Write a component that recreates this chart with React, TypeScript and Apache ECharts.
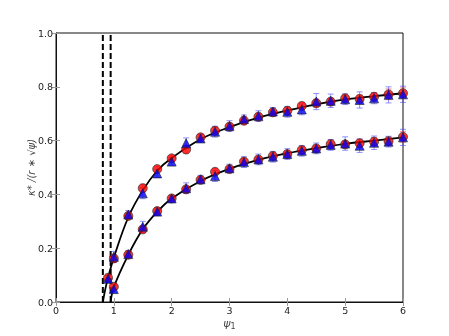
import React, { useEffect, useRef } from "react";
import * as echarts from "echarts";

const xTicks = [0, 1, 2, 3, 4, 5, 6];
const yTicks = [0, 0.2, 0.4, 0.6, 0.8, 1.0];

const xsUpper = [0.9, 1.0, 1.25, 1.5, 1.75, 2.0, 2.25, 2.5, 2.75, 3.0, 3.25, 3.5, 3.75, 4.0, 4.25, 4.5, 4.75, 5.0, 5.25, 5.5, 5.75, 6.0];
const upperCircle = [0.09, 0.162, 0.32, 0.423, 0.494, 0.534, 0.567, 0.612, 0.637, 0.652, 0.674, 0.689, 0.705, 0.711, 0.729, 0.739, 0.745, 0.757, 0.755, 0.763, 0.772, 0.776];
const upperCircleErr = [0.01, 0.015, 0.01, 0.015, 0.01, 0.01, 0.015, 0.012, 0.012, 0.012, 0.015, 0.012, 0.015, 0.012, 0.012, 0.015, 0.012, 0.012, 0.015, 0.015, 0.02, 0.02];
const upperTriangle = [0.086, 0.168, 0.325, 0.404, 0.478, 0.522, 0.59, 0.608, 0.633, 0.654, 0.68, 0.691, 0.708, 0.707, 0.716, 0.745, 0.748, 0.754, 0.751, 0.757, 0.77, 0.772];
const upperTriangleErr = [0.012, 0.02, 0.015, 0.02, 0.015, 0.015, 0.02, 0.015, 0.02, 0.02, 0.015, 0.02, 0.015, 0.02, 0.02, 0.03, 0.025, 0.02, 0.03, 0.02, 0.03, 0.03];

const xsLower = [1.0, 1.25, 1.5, 1.75, 2.0, 2.25, 2.5, 2.75, 3.0, 3.25, 3.5, 3.75, 4.0, 4.25, 4.5, 4.75, 5.0, 5.25, 5.5, 5.75, 6.0];
const lowerCircle = [0.057, 0.176, 0.27, 0.338, 0.385, 0.419, 0.454, 0.484, 0.494, 0.522, 0.53, 0.543, 0.55, 0.565, 0.571, 0.587, 0.586, 0.59, 0.596, 0.598, 0.614];
const lowerCircleErr = [0.01, 0.01, 0.012, 0.01, 0.01, 0.01, 0.012, 0.012, 0.012, 0.012, 0.01, 0.012, 0.012, 0.012, 0.012, 0.015, 0.012, 0.015, 0.015, 0.015, 0.02];
const lowerTriangle = [0.048, 0.178, 0.28, 0.336, 0.385, 0.423, 0.456, 0.468, 0.497, 0.52, 0.53, 0.54, 0.55, 0.562, 0.571, 0.584, 0.589, 0.581, 0.592, 0.596, 0.612];
const lowerTriangleErr = [0.015, 0.012, 0.02, 0.015, 0.012, 0.02, 0.015, 0.02, 0.015, 0.02, 0.02, 0.02, 0.02, 0.02, 0.02, 0.02, 0.025, 0.025, 0.025, 0.02, 0.03];

// Fitted curves
const upperCurveX = [0.81, 0.85, 0.9, 1.0, 1.25, 1.5, 1.75, 2.0, 2.5, 3.0, 3.5, 4.0, 4.5, 5.0, 5.5, 6.0];
const upperCurveY = [0.0, 0.045, 0.09, 0.165, 0.315, 0.415, 0.488, 0.535, 0.605, 0.65, 0.685, 0.712, 0.735, 0.753, 0.765, 0.776];
const lowerCurveX = [0.945, 1.0, 1.25, 1.5, 1.75, 2.0, 2.5, 3.0, 3.5, 4.0, 4.5, 5.0, 5.5, 6.0];
const lowerCurveY = [0.0, 0.055, 0.175, 0.27, 0.335, 0.385, 0.45, 0.495, 0.528, 0.553, 0.572, 0.588, 0.6, 0.612];

const dashX = [0.81, 0.945];

const zip = (xs: number[], ys: number[]) => xs.map((x, i) => [x, ys[i]]);
const errData = (xs: number[], ys: number[], es: number[]) => xs.map((x, i) => [x, ys[i] - es[i], ys[i] + es[i]]);

const errSeries = (data: number[][], color: string) => ({
  type: "custom",
  data,
  encode: { x: 0, y: [1, 2] },
  z: 2,
  renderItem: (params: any, api: any) => {
    const x = api.value(0);
    const p1 = api.coord([x, api.value(1)]);
    const p2 = api.coord([x, api.value(2)]);
    const cw = 3;
    const st = { stroke: color, lineWidth: 1 };
    return {
      type: "group",
      children: [
        { type: "line", shape: { x1: p1[0], y1: p1[1], x2: p2[0], y2: p2[1] }, style: st },
        { type: "line", shape: { x1: p1[0] - cw, y1: p1[1], x2: p1[0] + cw, y2: p1[1] }, style: st },
        { type: "line", shape: { x1: p2[0] - cw, y1: p2[1], x2: p2[0] + cw, y2: p2[1] }, style: st },
      ],
    };
  },
});

const markerSeries = (data: number[][], symbol: string, color: string, size: number) => ({
  type: "scatter",
  data,
  symbol,
  symbolSize: size,
  z: 4,
  itemStyle: { color, borderColor: "#222", borderWidth: 0.8 },
});

export default function App() {
  const ref = useRef<HTMLDivElement>(null);
  useEffect(() => {
    const chart = echarts.init(ref.current!, null, { renderer: "svg" });
    const font = "DejaVu Sans";
    chart.setOption({
      animation: false,
      grid: { left: 56, right: 46, top: 33, bottom: 34, show: true, borderColor: "#111", borderWidth: 1 },
      xAxis: [
        {
          type: "value",
          min: 0,
          max: 6,
          interval: 1,
          name: "{i|ψ}{s|1}",
          nameLocation: "middle",
          nameGap: 14,
          nameMoveOverlap: false,
          nameTextStyle: {
            rich: {
              i: { fontFamily: font, fontSize: 11, fontStyle: "italic", color: "#444" },
              s: { fontFamily: font, fontSize: 8, color: "#444", verticalAlign: "bottom", padding: [6, 0, 0, 0] },
            },
          },
          axisLine: { show: true, lineStyle: { color: "#111" } },
          axisTick: { show: true, inside: true, length: 4, lineStyle: { color: "#999" } },
          axisLabel: { fontFamily: font, fontSize: 9.5, color: "#222", margin: 3, formatter: (v: number) => String(v) },
          splitLine: { show: false },
        },
        {
          type: "value",
          position: "top",
          min: 0,
          max: 6,
          interval: 1,
          axisLine: { show: false },
          axisTick: { show: true, inside: true, length: 4, lineStyle: { color: "#999" } },
          axisLabel: { show: false },
          splitLine: { show: false },
        },
      ],
      yAxis: [
        {
          type: "value",
          min: 0,
          max: 1,
          interval: 0.2,
          name: "κ* /(r ∗ √ψ)",
          nameLocation: "middle",
          nameGap: 20,
          nameMoveOverlap: false,
          nameTextStyle: { fontFamily: font, fontSize: 10, fontStyle: "italic", color: "#444" },
          axisLine: { show: true, lineStyle: { color: "#111" } },
          axisTick: { show: true, inside: true, length: 4, lineStyle: { color: "#999" } },
          axisLabel: { fontFamily: font, fontSize: 9.5, color: "#222", margin: 3, formatter: (v: number) => v.toFixed(1) },
          splitLine: { show: false },
        },
        {
          type: "value",
          position: "right",
          min: 0,
          max: 1,
          interval: 0.2,
          axisLine: { show: false },
          axisTick: { show: true, inside: true, length: 4, lineStyle: { color: "#999" } },
          axisLabel: { show: false },
          splitLine: { show: false },
        },
      ],
      series: [
        ...dashX.map((x) => ({
          type: "line",
          data: [[x, 0], [x, 1]],
          symbol: "none",
          z: 1,
          lineStyle: { color: "#000", width: 2, type: [6, 3] },
        })),
        errSeries(errData(xsUpper, upperCircle, upperCircleErr), "rgba(255,80,80,0.6)"),
        errSeries(errData(xsLower, lowerCircle, lowerCircleErr), "rgba(255,80,80,0.6)"),
        errSeries(errData(xsUpper, upperTriangle, upperTriangleErr), "rgba(60,60,255,0.55)"),
        errSeries(errData(xsLower, lowerTriangle, lowerTriangleErr), "rgba(60,60,255,0.55)"),
        {
          type: "line",
          data: zip(upperCurveX, upperCurveY),
          symbol: "none",
          smooth: 0.4,
          z: 3,
          lineStyle: { color: "#000", width: 1.8 },
        },
        {
          type: "line",
          data: zip(lowerCurveX, lowerCurveY),
          symbol: "none",
          smooth: 0.4,
          z: 3,
          lineStyle: { color: "#000", width: 1.8 },
        },
        markerSeries(zip(xsUpper, upperCircle), "circle", "#ff0000", 9),
        markerSeries(zip(xsLower, lowerCircle), "circle", "#ff0000", 9),
        markerSeries(zip(xsUpper, upperTriangle), "triangle", "#0000ff", 9),
        markerSeries(zip(xsLower, lowerTriangle), "triangle", "#0000ff", 9),
      ],
    });
    return () => chart.dispose();
  }, []);
  return <div ref={ref} style={{ position: "fixed", left: 0, top: 0, width: 449, height: 336 }} />;
}
